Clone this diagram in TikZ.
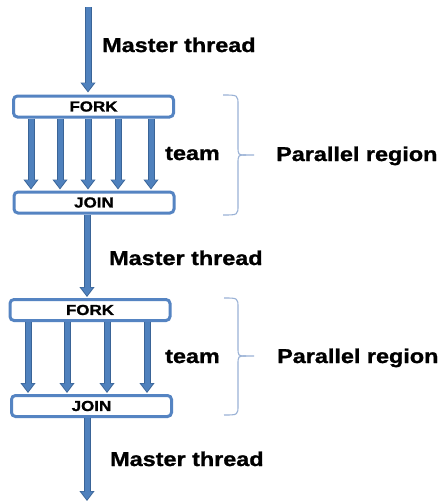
\documentclass[tikz,border=0pt]{standalone}
\usepackage{fontspec}
\newfontfamily\lblfont{Liberation Sans}[FakeStretch=1.17,FakeBold=1.2]
\usetikzlibrary{arrows.meta}
\definecolor{armblue}{HTML}{4F81BD}
\definecolor{armedge}{HTML}{3A6497}
\definecolor{boxblue}{HTML}{5584C2}
\definecolor{braceblue}{HTML}{9AB2D6}
\begin{document}
\begin{tikzpicture}[x=1pt,y=-1pt,
   box/.style={draw=boxblue,line width=3pt,fill=white,rounded corners=4pt,
     minimum width=160pt,minimum height=21pt,inner sep=0pt,
     font=\lblfont\bfseries\fontsize{14.5}{16}\selectfont},
   lbl/.style={inner sep=0pt,anchor=base west,
     font=\lblfont\bfseries\fontsize{20}{24}\selectfont},
   thread/.style={draw=armblue,line width=5pt,shorten >=1.3pt,
     -{Triangle[width=11pt,length=8pt]},
     preaction={draw=armedge,line width=7pt,shorten >=0pt,
       -{Triangle[width=14.5pt,length=10pt]}}},
   bracket/.style={draw=braceblue,line width=1.1pt}]
   \useasboundingbox [fill=white] (0,0) rectangle (437,501);
   \node [box] (fork1) at (93.5,106.5) {FORK};
   \node [box] (join1) at (94,202.5) {JOIN};
   \node [box] (fork2) at (90,310) {FORK};
   \node [box] (join2) at (91.5,406) {JOIN};
   \coordinate (start) at (88,7);
   \coordinate (finish) at (87,501);
   % master thread
   \draw [thread] (start) -- ([yshift=2pt]start |- fork1.north);
   \draw [thread] (87,0 |- join1.south) -- ([yshift=1pt]87,0 |- fork2.north);
   \draw [thread] (87,0 |- join2.south) -- (finish);
   % team
   \foreach \x in {31,60,88,118,151}
     \draw [thread] (\x,0 |- fork1.south) -- ([yshift=1pt]\x,0 |- join1.north);
   \foreach \x in {28,67,107,147}
     \draw [thread] (\x,0 |- fork2.south) -- ([yshift=1pt]\x,0 |- join2.north);
   % braces
   \draw [bracket] (223,95) .. controls (238,95) .. (238,105) -- (238,146)
     .. controls (238,155) .. (246,155) -- (254,155);
   \draw [bracket] (223,215) .. controls (238,215) .. (238,205) -- (238,164)
     .. controls (238,155) .. (246,155);
   \draw [bracket] (224,298) .. controls (238,298) .. (238,308) -- (238,347)
     .. controls (238,356) .. (246,356) -- (254,356);
   \draw [bracket] (224,415) .. controls (238,415) .. (238,405) -- (238,365)
     .. controls (238,356) .. (246,356);
   \node [lbl] (mt1) at (102,52) {Master thread};
   \node [lbl] (mt2) at (109,265) {Master thread};
   \node [lbl] (mt3) at (110,466) {Master thread};
   \node [lbl] (team1) at (165,160) {team};
   \node [lbl] (team2) at (165,363) {team};
   \node [lbl] (par1) at (276,161) {Parallel region};
   \node [lbl] (par2) at (277,363) {Parallel region};
\end{tikzpicture}
\end{document}
